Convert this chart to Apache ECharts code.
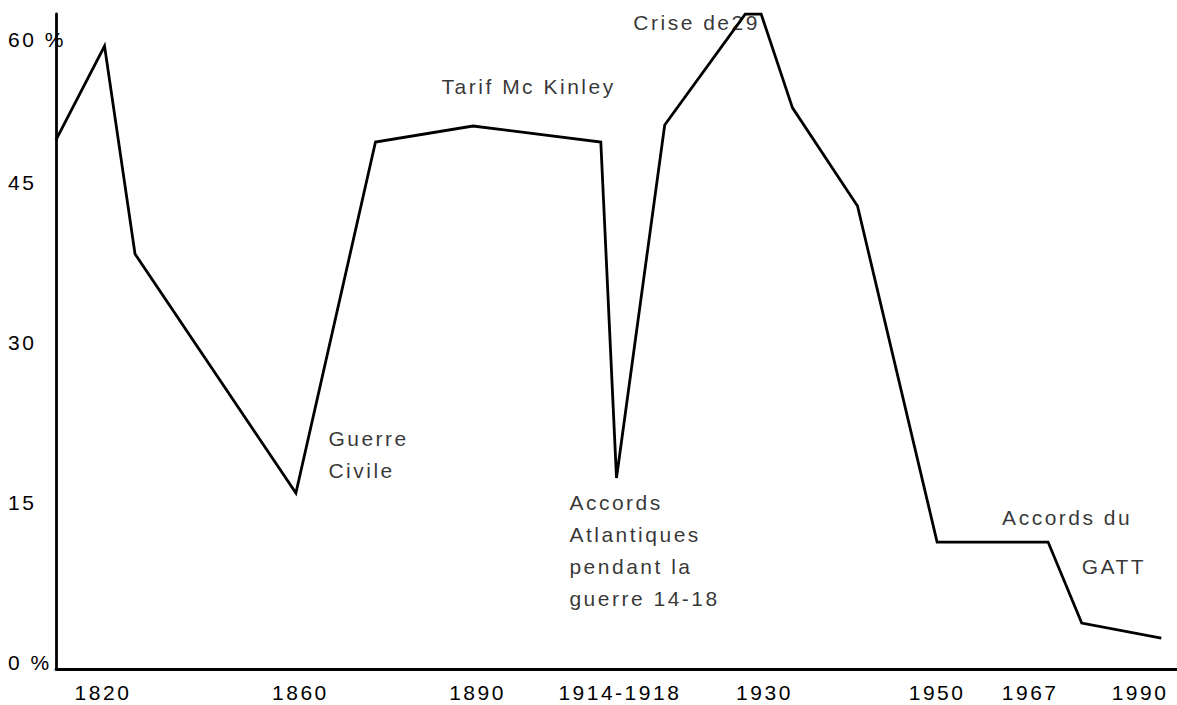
<!doctype html>
<html lang="fr">
  <head>
    <meta charset="UTF-8" />
    <title>Droits de douane USA</title>
    <script src="https://fastly.jsdelivr.net/npm/echarts@6/dist/echarts.min.js"></script>
    <style type="text/css">
      * {
        margin: 0;
        padding: 0;
      }
      html,
      body,
      #chart {
        width: 100%;
        height: 100%;
        overflow: hidden;
        background: #fff;
      }
      #chart svg text {
        letter-spacing: 2.5px;
      }
    </style>
  </head>
  <body>
    <div id="chart"></div>
  </body>
  <script>
    // position along the (non linear) time axis, 0..100
    const pointPos = [0, 4.33, 7.05, 21.4, 28.5, 37.2, 48.6, 50.0, 54.3, 61.5, 62.9, 65.7, 71.5, 78.6, 88.5, 91.5, 98.6];
    // tariff level, %
    const pointVal = [49.0, 57.8, 38.3, 15.9, 48.8, 50.3, 48.8, 17.3, 50.4, 60.8, 60.8, 52.0, 42.8, 11.3, 11.3, 3.7, 2.3];

    const xTickPos = [4.19, 21.8, 37.6, 50.3, 63.2, 78.6, 86.9, 96.7];
    const xTickLabels = ['1820', '1860', '1890', '1914-1918', '1930', '1950', '1967', '1990'];

    const yTickPos = [0, 15, 30, 45, 58.4];
    const yTickLabels = ['0 %', '15', '30', '45', '60 %'];

    // annotations: left edge position, vertical centre, text
    const notePos = [34.4, 51.5, 24.3, 45.8, 84.4, 91.5];
    const noteVal = [54.0, 60.0, 19.5, 10.5, 13.6, 9.0];
    const noteText = [
      'Tarif Mc Kinley',
      'Crise de29',
      'Guerre\nCivile',
      'Accords\nAtlantiques\npendant la\nguerre 14-18',
      'Accords du',
      'GATT',
    ];

    const font = "'Liberation Sans', Arial, sans-serif";

    const chart = echarts.init(document.getElementById('chart'), null, { renderer: 'svg' });
    chart.setOption({
      animation: false,
      backgroundColor: '#fff',
      grid: { left: 56, right: 0, top: 14, bottom: 36 },
      xAxis: {
        type: 'value',
        min: 0,
        max: 100,
        axisLine: { show: true, onZero: false, lineStyle: { color: '#000', width: 2.8 } },
        axisTick: { show: false },
        splitLine: { show: false },
        axisLabel: {
          customValues: xTickPos,
          formatter: (v) => xTickLabels[xTickPos.indexOf(v)] || '',
          color: '#000',
          fontSize: 21,
          fontFamily: font,
          margin: 13,
        },
      },
      yAxis: {
        type: 'value',
        min: -0.6,
        max: 60.8,
        axisLine: { show: true, lineStyle: { color: '#000', width: 2.8 } },
        axisTick: { show: false },
        splitLine: { show: false },
        axisLabel: {
          customValues: yTickPos,
          formatter: (v) => yTickLabels[yTickPos.indexOf(v)] || '',
          color: '#000',
          fontSize: 21,
          fontFamily: font,
          align: 'left',
          margin: 48,
        },
      },
      series: [
        {
          type: 'line',
          data: pointPos.map((p, i) => [p, pointVal[i]]),
          symbol: 'none',
          lineStyle: { color: '#000', width: 2.8, join: 'miter' },
          z: 3,
        },
        {
          type: 'scatter',
          symbolSize: 0,
          data: notePos.map((p, i) => ({ name: noteText[i], value: [p, noteVal[i]] })),
          label: {
            show: true,
            position: [0, 0],
            align: 'left',
            verticalAlign: 'middle',
            formatter: (d) => d.name,
            color: '#000',
            fontSize: 21,
            lineHeight: 32,
            fontFamily: font,
          },
          silent: true,
          z: 4,
        },
      ],
    });
  </script>
</html>
